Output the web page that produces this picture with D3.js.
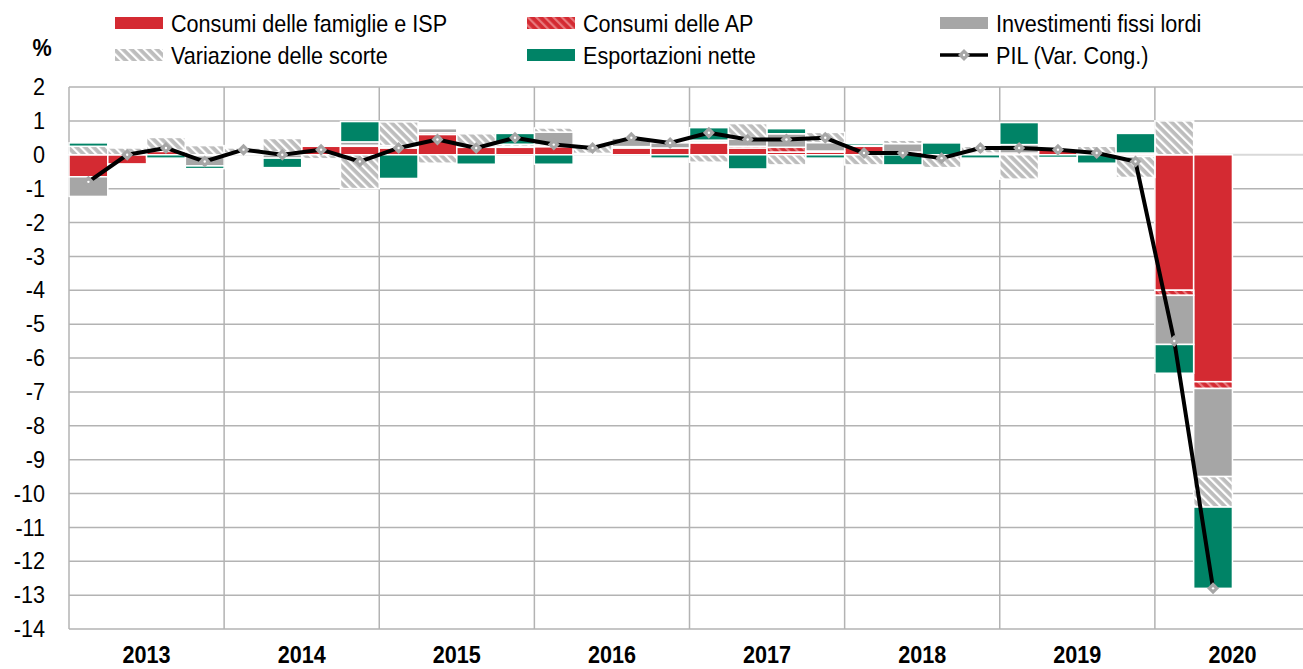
<!DOCTYPE html>
<html>
<head>
<meta charset="utf-8">
<script src="https://cdn.jsdelivr.net/npm/d3@7"></script>
<style>
  body { margin: 0; background: #fff; }
  svg { display: block; font-family: "Liberation Sans", Arial, sans-serif; }
</style>
</head>
<body>
<svg id="chart" width="1303" height="669"></svg>
<script>
// anni e trimestri
const anni = ['2013', '2014', '2015', '2016', '2017', '2018', '2019', '2020'];
const trimestri = [
  '2013T1', '2013T2', '2013T3', '2013T4',
  '2014T1', '2014T2', '2014T3', '2014T4',
  '2015T1', '2015T2', '2015T3', '2015T4',
  '2016T1', '2016T2', '2016T3', '2016T4',
  '2017T1', '2017T2', '2017T3', '2017T4',
  '2018T1', '2018T2', '2018T3', '2018T4',
  '2019T1', '2019T2', '2019T3', '2019T4',
  '2020T1', '2020T2'
];

// contributi alla crescita (punti %)
const consumiFamiglie = [
  -0.65, -0.27, 0.10, -0.03,
  0.03, 0.05, 0.25, 0.25,
  0.20, 0.60, 0.22, 0.22,
  0.24, 0.04, 0.20, 0.20,
  0.35, 0.20, 0.08, 0.08,
  0.25, 0.08, -0.03, 0.05,
  0.05, 0.15, 0.03, -0.05,
  -4.00, -6.70
];
const consumiAP = [
  0, 0, 0, 0,
  0, 0.03, 0, 0.03,
  0.02, 0.05, 0, 0.03,
  0.05, 0, 0.04, 0,
  0.03, 0.05, 0.14, 0.03,
  0, 0, 0, 0,
  0, 0, 0, 0.05,
  -0.15, -0.20
];
const investimenti = [
  -0.58, 0, 0.03, -0.30,
  0.02, -0.10, 0, 0.10,
  0.05, 0.12, 0.05, 0,
  0.38, 0, 0.25, 0.15,
  0.05, 0.22, 0.40, 0.25,
  0.03, 0.25, 0, 0,
  0.25, 0, 0, 0,
  -1.45, -2.60
];
const scorte = [
  0.25, 0.20, 0.38, 0.27,
  0.15, 0.40, -0.12, -1.00,
  0.70, -0.25, 0.35, 0.06,
  0.12, 0.24, 0, 0,
  -0.22, 0.45, -0.30, 0.30,
  -0.30, 0.10, -0.35, 0.20,
  -0.72, 0, 0.22, -0.62,
  1.00, -0.90
];
const esportazioni = [
  0.10, 0, -0.10, -0.08,
  0, -0.28, 0, 0.60,
  -0.70, 0, -0.28, 0.32,
  -0.28, 0, 0, -0.10,
  0.37, -0.42, 0.15, -0.10,
  0.06, -0.30, 0.35, -0.10,
  0.65, -0.08, -0.25, 0.58,
  -0.85, -2.40
];
const pil = [
  -0.8, 0.0, 0.2, -0.2,
  0.15, 0.0, 0.15, -0.2,
  0.2, 0.45, 0.2, 0.5,
  0.3, 0.2, 0.5, 0.35,
  0.65, 0.45, 0.45, 0.5,
  0.05, 0.05, -0.1, 0.2,
  0.2, 0.15, 0.05, -0.2,
  -5.5, -12.8
];

const nomiSerie = ['Consumi delle famiglie e ISP', 'Consumi delle AP', 'Investimenti fissi lordi',
  'Variazione delle scorte', 'Esportazioni nette'];
const nomePil = 'PIL (Var. Cong.)';
const yTicks = d3.range(-14, 3);

// ---- layout
const mLeft = 69, mRight = 1310, mTop = 87, mBottom = 629;
const FONT = 24, SX = 0.9;   // testo leggermente stretto come nell'originale

const svg = d3.select('#chart');
const defs = svg.append('defs');

function hatch(id, bg, fg) {
  const p = defs.append('pattern')
    .attr('id', id)
    .attr('patternUnits', 'userSpaceOnUse')
    .attr('width', 6).attr('height', 6)
    .attr('patternTransform', 'rotate(-45)');
  p.append('rect').attr('width', 6).attr('height', 6).attr('fill', bg);
  p.append('rect').attr('width', 2.2).attr('height', 6).attr('fill', fg);
}
hatch('hAP', '#d42a32', '#e8797d');
hatch('hSco', '#bdbdbd', '#ffffff');

const chiavi = ['fam', 'ap', 'inv', 'sco', 'exp'];
const colori = { fam: '#d42a32', ap: 'url(#hAP)', inv: '#a6a6a6', sco: 'url(#hSco)', exp: '#008366' };

const righe = trimestri.map((t, i) => ({
  t,
  fam: consumiFamiglie[i],
  ap: consumiAP[i],
  inv: investimenti[i],
  sco: scorte[i],
  exp: esportazioni[i]
}));

const x = d3.scaleLinear().domain([0, anni.length * 4]).range([mLeft, mRight]);
const xAnni = d3.scaleBand().domain(anni).range([mLeft, mRight]);
const y = d3.scaleLinear().domain([-14, 2]).range([mBottom, mTop]);

// griglia
const grid = svg.append('g');
grid.selectAll('line.h').data(yTicks).join('line')
  .attr('x1', mLeft).attr('x2', mRight)
  .attr('y1', d => y(d)).attr('y2', d => y(d))
  .attr('stroke', d => d === 0 ? '#d9d9d9' : '#b3b3b3')
  .attr('stroke-width', d => d === 0 ? 2 : 1.5);
grid.selectAll('line.v').data(anni.concat(['fine'])).join('line')
  .attr('x1', (d, i) => x(i * 4)).attr('x2', (d, i) => x(i * 4))
  .attr('y1', mTop).attr('y2', mBottom)
  .attr('stroke', '#b3b3b3').attr('stroke-width', 1.5);

// barre impilate
const serie = d3.stack().keys(chiavi).offset(d3.stackOffsetDiverging)(righe);
svg.append('g').selectAll('g').data(serie).join('g')
  .attr('fill', s => colori[s.key])
  .selectAll('rect')
  .data(s => s.map((d, i) => ({ d, i })).filter(o => o.d[1] !== o.d[0]))
  .join('rect')
  .attr('x', o => x(o.i))
  .attr('width', o => x(o.i + 1) - x(o.i))
  .attr('y', o => y(Math.max(o.d[0], o.d[1])))
  .attr('height', o => Math.abs(y(o.d[0]) - y(o.d[1])))
  .attr('stroke', '#fff')
  .attr('stroke-width', 1.5);

// PIL
const linea = d3.line().x((d, i) => x(i + 0.5)).y(d => y(d));
svg.append('path').datum(pil)
  .attr('d', linea)
  .attr('fill', 'none')
  .attr('stroke', '#000')
  .attr('stroke-width', 4)
  .attr('stroke-linejoin', 'round');

const rombo = d3.symbol(d3.symbolSquare, 72);
function marker(g, cx, cy) {
  g.append('path').attr('d', rombo())
    .attr('transform', `translate(${cx},${cy}) rotate(45)`)
    .attr('fill', '#a6a6a6');
  g.append('circle').attr('cx', cx).attr('cy', cy).attr('r', 1.2).attr('fill', '#fff');
}
const gm = svg.append('g');
pil.forEach((v, i) => marker(gm, x(i + 0.5), y(v)));

// asse y
const yAxis = svg.append('g')
  .attr('transform', `translate(${mLeft},0)`)
  .call(d3.axisLeft(y).tickValues(yTicks).tickSize(0).tickPadding(24).tickFormat(d => String(d)));
yAxis.select('.domain').remove();
yAxis.selectAll('text')
  .attr('x', -24 / SX)
  .attr('transform', `scale(${SX},1)`)
  .attr('font-size', FONT)
  .attr('font-family', '"Liberation Sans", Arial, sans-serif')
  .attr('fill', '#000');

// asse x (anni)
const xAxis = svg.append('g')
  .attr('transform', `translate(0,${mBottom})`)
  .call(d3.axisBottom(xAnni).tickSize(0).tickPadding(17));
xAxis.select('.domain').remove();
xAxis.selectAll('text')
  .attr('transform', `scale(${SX},1)`)
  .attr('font-size', FONT)
  .attr('font-weight', 'bold')
  .attr('font-family', '"Liberation Sans", Arial, sans-serif')
  .attr('fill', '#000');

// unità
svg.append('text')
  .attr('transform', `translate(42,56) scale(${SX},1)`)
  .attr('text-anchor', 'middle')
  .attr('font-size', FONT).attr('font-weight', 'bold')
  .text('%');

// legenda
const colX = [115, 527, 940], rowY = [23, 55];
const voci = nomiSerie.concat([nomePil]);
const gl = svg.append('g');
voci.forEach((nome, k) => {
  const cx = colX[k % 3], cy = rowY[Math.floor(k / 3)];
  if (k < 5) {
    gl.append('rect').attr('x', cx).attr('y', cy - 6).attr('width', 48).attr('height', 12)
      .attr('fill', colori[chiavi[k]]);
  } else {
    gl.append('line').attr('x1', cx).attr('x2', cx + 48).attr('y1', cy).attr('y2', cy)
      .attr('stroke', '#000').attr('stroke-width', 3.5);
    marker(gl, cx + 24, cy);
  }
  gl.append('text')
    .attr('transform', `translate(${cx + 56},${cy + 8.5}) scale(${SX},1)`)
    .attr('font-size', FONT)
    .text(nome);
});
</script>
</body>
</html>
